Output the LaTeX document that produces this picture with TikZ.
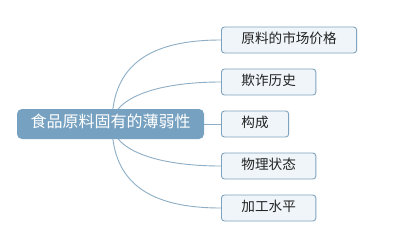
\documentclass[tikz,border=0pt]{standalone}
\usepackage{fontspec}
\usepackage{xcolor}
\setmainfont{Noto Sans CJK SC}
\definecolor{rootblue}{HTML}{77A1C0}
\definecolor{leafedge}{HTML}{7FA3BE}
\definecolor{leaffill}{HTML}{EFF5F9}
\definecolor{linkblue}{HTML}{8DAEC6}
\definecolor{inkgray}{HTML}{222222}

\begin{document}
\begin{tikzpicture}[x=1pt, y=-1pt,
    rootbox/.style={fill=rootblue, text=white, rounded corners=5pt,
      inner xsep=13.5pt, minimum height=30pt, font=\fontsize{16}{16}\selectfont,
      text height=0.88em, text depth=0.12em},
    leafbox/.style={draw=leafedge, fill=leaffill, text=inkgray, line width=0.9pt,
      rounded corners=3pt, inner xsep=20pt, minimum height=26pt, anchor=west,
      font=\fontsize{13.6}{13.6}\selectfont, text height=0.88em, text depth=0.12em},
    link/.style={draw=linkblue, line width=0.9pt}]
    \useasboundingbox[fill=white] (0,0) rectangle (406,242);
    \coordinate (hub) at (112,124);
    % branches
    \foreach \i/\lbl/\yy in {
      1/{原料的市场价格}/40,
      2/{欺诈历史}/82,
      3/{构成}/124,
      4/{物理状态}/166,
      5/{加工水平}/208%
    }{
      \node[leafbox] (leaf\i) at (221,\yy) {\lbl};
    }
    \draw[link] (hub) .. controls +(0,-60) and +(-70,0) .. (leaf1.west);
    \draw[link] (hub) .. controls +(2,-28) and +(-60,0) .. (leaf2.west);
    \draw[link] (hub) -- (leaf3.west);
    \draw[link] (hub) .. controls +(2,28) and +(-60,0) .. (leaf4.west);
    \draw[link] (hub) .. controls +(0,60) and +(-70,0) .. (leaf5.west);
    % central topic
    \node[rootbox] (root) at (110.5,124) {食品原料固有的薄弱性};
  \end{tikzpicture}
\end{document}
